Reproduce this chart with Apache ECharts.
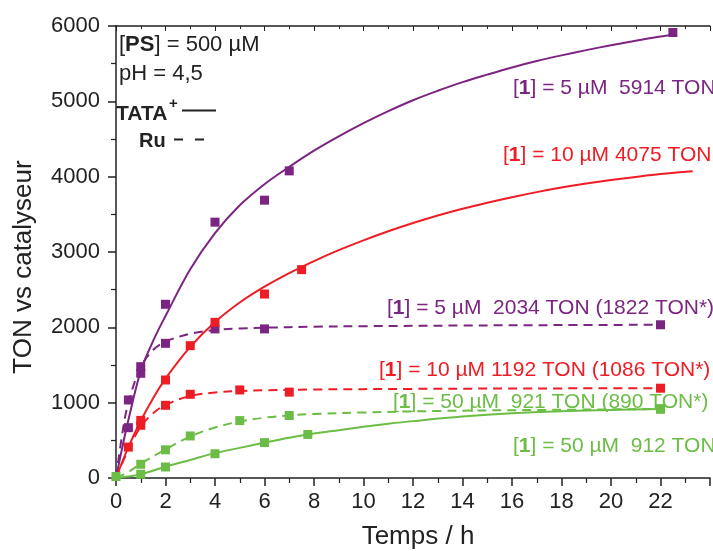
<!DOCTYPE html>
<html><head><meta charset="utf-8">
<script src="https://cdn.jsdelivr.net/npm/echarts@6/dist/echarts.min.js"></script>
<style>html,body{margin:0;padding:0;background:#fff}#c{width:713px;height:551px}</style>
</head><body><div id="c"></div>
<script>
// ---- data (time in h, TON) ----
const xTicks = [0,2,4,6,8,10,12,14,16,18,20,22];
const yTicks = [0,1000,2000,3000,4000,5000,6000];

// measured points
const purpleTataPts = [[0.5,668],[1,1390],[2,2306],[4,3396],[6,3688],[7,4077],[22.5,5914]];
const purpleRuPts   = [[0.5,1036],[1,1478],[2,1788],[4,1979],[6,1979],[22,2034]];
const redTataPts    = [[0.5,410],[1,765],[2,1301],[3,1757],[4,2066],[6,2442],[7.5,2766]];
const redRuPts      = [[1,700],[2,965],[3,1111],[5,1169],[7,1140],[22,1192]];
const greenTataPts  = [[0,20],[1,50],[2,146],[4,322],[6,470],[7.75,578],[22,912]];
const greenRuPts    = [[1,182],[2,374],[3,558],[5,762],[7,830],[22,921]];

// fitted curves
const purpleTataCurve = [[0,0],[0.25,400],[0.5,770],[1,1420],[1.5,1820],[2,2150],[3,2770],[4,3250],[5,3620],[6,3900],[7,4130],[8,4345],[9,4535],[10,4710],[11,4870],[12,5015],[13,5140],[14,5255],[15,5355],[16,5450],[17,5535],[18,5610],[19,5680],[20,5745],[21,5805],[22,5860],[22.5,5885]];
const purpleRuCurve   = [[0,0],[0.25,580],[0.5,1000],[1,1470],[1.5,1700],[2,1810],[3,1915],[4,1965],[5,1985],[6,1995],[8,2008],[10,2015],[14,2024],[18,2030],[22,2034]];
const redTataCurve    = [[0,0],[0.5,410],[1,760],[1.5,1060],[2,1320],[3,1740],[4,2070],[5,2330],[6,2540],[7,2720],[8,2880],[9,3025],[10,3155],[11,3275],[12,3385],[13,3485],[14,3575],[15,3655],[16,3728],[17,3795],[18,3855],[19,3908],[20,3955],[21,3997],[22,4035],[23.3,4072]];
const redRuCurve      = [[0,0],[0.5,380],[1,680],[1.5,860],[2,970],[3,1090],[4,1135],[5,1155],[6,1165],[8,1175],[12,1183],[16,1188],[22,1192]];
const greenTataCurve  = [[0,0],[1,50],[2,150],[3,240],[4,330],[5,400],[6,470],[7,535],[8,590],[9,635],[10,680],[11,720],[12,755],[14,815],[16,858],[18,885],[20,903],[22,915]];
const greenRuCurve    = [[0,0],[0.5,80],[1,190],[2,380],[3,550],[4,670],[5,750],[6,800],[7,832],[8,850],[10,870],[13,890],[17,903],[22,916]];

const PURPLE = '#7b2481', RED = '#ee1d25', GREEN = '#6bbd45', INK = '#222222';
const FONT = 'Liberation Sans';

const chart = echarts.init(document.getElementById('c'), null, {renderer:'canvas'});

function curve(data, color, dashed){
  return {type:'line', data, showSymbol:false, symbol:'none', smooth:0.35,
    lineStyle:{color, width:2, type: dashed ? [9,6] : 'solid'}, z:2, silent:true};
}
function pts(data, color){
  return {type:'scatter', data, symbol:'rect', symbolSize:9, itemStyle:{color, opacity:1}, z:5, silent:true};
}

const axisCommon = {
  type:'value', min:0, max:24, interval:2,
  splitLine:{show:false}
};

chart.setOption({
  animation:false,
  textStyle:{fontFamily:FONT},
  grid:{left:116, right:-21, top:26, bottom:73, containLabel:false},
  xAxis:[
    Object.assign({}, axisCommon, {
      position:'bottom',
      axisLine:{show:true, onZero:false, lineStyle:{color:INK, width:1.5}},
      axisTick:{show:true, inside:false, length:8, lineStyle:{color:INK, width:1.5}},
      minorTick:{show:true, splitNumber:2, length:5, lineStyle:{color:INK, width:1.2}},
      axisLabel:{fontSize:22, color:INK, margin:13, fontFamily:FONT,
        formatter: v => xTicks.includes(v) ? String(v) : ''}
    }),
    Object.assign({}, axisCommon, {
      position:'top',
      axisLine:{show:true, onZero:false, lineStyle:{color:INK, width:1.5}},
      axisTick:{show:true, inside:true, length:5, lineStyle:{color:INK, width:1}},
      minorTick:{show:true, splitNumber:2, length:3, lineStyle:{color:INK, width:1}},
      axisLabel:{show:false}
    })
  ],
  yAxis:{
    type:'value', min:0, max:6000, interval:1000,
    splitLine:{show:false},
    axisLine:{show:true, onZero:false, lineStyle:{color:INK, width:1.5}},
    axisTick:{show:true, inside:false, length:8, lineStyle:{color:INK, width:1.5}},
    minorTick:{show:true, splitNumber:2, length:5, lineStyle:{color:INK, width:1.2}},
    axisLabel:{fontSize:22, color:INK, margin:16, fontFamily:FONT,
      formatter: v => yTicks.includes(v) ? String(v) : ''}
  },
  series:[
    curve(purpleTataCurve, PURPLE, false),
    curve(redTataCurve, RED, false),
    curve(greenTataCurve, GREEN, false),
    curve(purpleRuCurve, PURPLE, true),
    curve(redRuCurve, RED, true),
    curve(greenRuCurve, GREEN, true),
    pts(purpleTataPts, PURPLE),
    pts(purpleRuPts, PURPLE),
    pts(redTataPts, RED),
    pts(redRuPts, RED),
    pts(greenTataPts, GREEN),
    pts(greenRuPts, GREEN)
  ],
  graphic:[
    // axis titles
    {type:'text', x:418, y:537, style:{text:'Temps / h', font:'26px "Liberation Sans"', fill:INK, align:'center', verticalAlign:'middle'}},
    {type:'text', x:24, y:267, rotation:Math.PI/2, style:{text:'TON vs catalyseur', font:'26px "Liberation Sans"', fill:INK, align:'center', verticalAlign:'middle'}},
    // top-left conditions
    {type:'text', x:119, y:45, style:{text:'[{b|PS}] = 500 µM', fill:INK, font:'22px "Liberation Sans"', verticalAlign:'middle',
      rich:{b:{fontWeight:'bold', fontSize:22, fontFamily:FONT, fill:INK}}}},
    {type:'text', x:119, y:74, style:{text:'pH = 4,5', fill:INK, font:'22px "Liberation Sans"', verticalAlign:'middle'}},
    {type:'text', x:116, y:114, style:{text:'TATA', fill:INK, font:'bold 21px "Liberation Sans"', verticalAlign:'middle'}},
    {type:'text', x:169, y:104, style:{text:'+', fill:INK, font:'bold 15px "Liberation Sans"', verticalAlign:'middle'}},
    {type:'line', shape:{x1:182, y1:110.5, x2:216, y2:110.5}, style:{stroke:INK, lineWidth:2}},
    {type:'text', x:139, y:141, style:{text:'Ru', fill:INK, font:'bold 20px "Liberation Sans"', verticalAlign:'middle'}},
    {type:'line', shape:{x1:174, y1:139.5, x2:183, y2:139.5}, style:{stroke:INK, lineWidth:2}},
    {type:'line', shape:{x1:195, y1:139.5, x2:204, y2:139.5}, style:{stroke:INK, lineWidth:2}},
    // right-hand labels
    {type:'text', x:513, y:88, style:{text:'[{b|1}] = 5 µM  5914 TON', fill:PURPLE, font:'21px "Liberation Sans"', verticalAlign:'middle',
      rich:{b:{fontWeight:'bold', fontSize:21, fontFamily:FONT, fill:PURPLE}}}},
    {type:'text', x:503, y:155, style:{text:'[{b|1}] = 10 µM 4075 TON', fill:RED, font:'21px "Liberation Sans"', verticalAlign:'middle',
      rich:{b:{fontWeight:'bold', fontSize:21, fontFamily:FONT, fill:RED}}}},
    {type:'text', x:387, y:308, style:{text:'[{b|1}] = 5 µM  2034 TON (1822 TON*)', fill:PURPLE, font:'21px "Liberation Sans"', verticalAlign:'middle',
      rich:{b:{fontWeight:'bold', fontSize:21, fontFamily:FONT, fill:PURPLE}}}},
    {type:'text', x:379, y:370, style:{text:'[{b|1}] = 10 µM 1192 TON (1086 TON*)', fill:RED, font:'21px "Liberation Sans"', verticalAlign:'middle',
      rich:{b:{fontWeight:'bold', fontSize:21, fontFamily:FONT, fill:RED}}}},
    {type:'text', x:393, y:402, style:{text:'[{b|1}] = 50 µM  921 TON (890 TON*)', fill:GREEN, font:'21px "Liberation Sans"', verticalAlign:'middle',
      rich:{b:{fontWeight:'bold', fontSize:21, fontFamily:FONT, fill:GREEN}}}},
    {type:'text', x:513, y:446, style:{text:'[{b|1}] = 50 µM  912 TON', fill:GREEN, font:'21px "Liberation Sans"', verticalAlign:'middle',
      rich:{b:{fontWeight:'bold', fontSize:21, fontFamily:FONT, fill:GREEN}}}}
  ]
});
</script></body></html>
